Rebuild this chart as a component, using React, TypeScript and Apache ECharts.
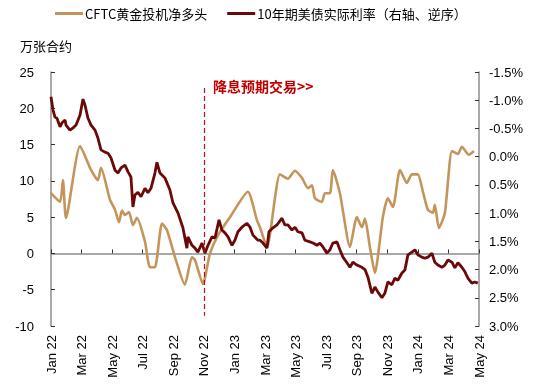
import React, { useEffect, useRef } from "react";
import * as echarts from "echarts";

// x positions are months elapsed since 1 Jan 2022
const xTickLabels = [
  "Jan 22", "Mar 22", "May 22", "Jul 22", "Sep 22", "Nov 22", "Jan 23", "Mar 23",
  "May 23", "Jul 23", "Sep 23", "Nov 23", "Jan 24", "Mar 24", "May 24",
];

const goldMonths = [
  0, 0.59, 0.78, 0.98, 1.9, 2.62, 3.07, 3.27, 3.86, 4.19, 4.45, 4.64, 4.84, 5.1, 5.36, 5.62,
  6.15, 6.47, 6.8, 7.26, 7.59, 8.11, 8.76, 9.22, 9.42, 9.94, 10.4, 10.92, 11.71, 12.88, 13.47,
  13.67, 14.13, 14.98, 15.5, 15.96, 16.42, 16.81, 17.07, 17.27, 17.72, 17.92, 18.25, 18.44,
  18.9, 19.56, 20.01, 20.34, 20.54, 20.86, 21.19, 21.71, 22.04, 22.37, 22.83, 23.28, 23.61,
  24.0, 24.33, 24.66, 24.98, 25.11, 25.38, 25.77, 26.23, 26.62, 26.88, 27.34, 27.67,
];
const goldValues = [
  8.3, 7.1, 10.1, 4.9, 14.8, 11.5, 10.1, 11.8, 7.4, 6.0, 4.3, 5.9, 5.3, 5.7, 3.9, 4.9,
  1.6, -1.9, -1.9, 4.1, 3.2, -0.5, -4.3, -0.5, -0.9, -4.2, 0, 2.5, 5.0, 8.5, 4.6,
  3.6, 0.9, 10.9, 10.3, 11.4, 10.4, 9.0, 9.4, 7.6, 7.1, 8.3, 8.3, 11.5,
  8.3, 0.9, 5.0, 3.6, 4.8, 0.9, -2.7, 5.0, 7.6, 6.4, 11.5, 9.7, 10.9,
  10.9, 8.5, 6.0, 5.6, 6.7, 3.5, 5.6, 14.1, 13.7, 14.7, 13.6, 14.1,
];

const rateMonths = [
  0, 0.13, 0.26, 0.39, 0.59, 0.72, 0.92, 0.98, 1.24, 1.44, 1.64, 1.9, 2.09, 2.22, 2.42, 2.62,
  2.88, 3.07, 3.27, 3.53, 3.73, 3.92, 4.19, 4.38, 4.58, 4.84, 5.04, 5.23, 5.36, 5.49, 5.69,
  5.89, 6.15, 6.34, 6.54, 6.8, 6.93, 7.13, 7.46, 7.78, 7.98, 8.31, 8.63, 8.89, 8.96, 9.22,
  9.42, 9.61, 9.88, 10.07, 10.27, 10.53, 10.73, 10.99, 11.18, 11.38, 11.58, 11.84, 12.03,
  12.23, 12.49, 12.82, 13.02, 13.21, 13.54, 13.67, 13.87, 14.13, 14.26, 14.52, 14.78, 15.11,
  15.3, 15.5, 15.76, 15.96, 16.15, 16.42, 16.61, 16.94, 17.14, 17.4, 17.59, 17.79, 18.05,
  18.25, 18.44, 18.71, 18.9, 19.1, 19.36, 19.56, 19.75, 20.01, 20.34, 20.54, 20.73, 20.99,
  21.19, 21.39, 21.65, 21.84, 22.04, 22.3, 22.5, 22.69, 22.96, 23.15, 23.35, 23.61, 23.81,
  24.0, 24.26, 24.46, 24.66, 24.92, 25.11, 25.31, 25.57, 25.77, 25.97, 26.23, 26.42, 26.62,
  26.88, 27.08, 27.27, 27.53, 27.73, 27.92,
];
const rateValues = [
  -1.06, -0.83, -0.7, -0.68, -0.53, -0.6, -0.65, -0.56, -0.47, -0.51, -0.56, -0.74, -1.02, -0.92, -0.68, -0.56,
  -0.47, -0.33, -0.12, -0.08, -0.06, 0.02, 0.24, 0.29, 0.2, 0.15, 0.27, 0.36, 0.89, 0.68, 0.63,
  0.71, 0.56, 0.64, 0.56, 0.29, 0.1, 0.29, 0.38, 0.59, 0.82, 1.0, 1.26, 1.62, 1.42, 1.57,
  1.62, 1.69, 1.53, 1.71, 1.57, 1.42, 1.44, 1.12, 1.3, 1.35, 1.42, 1.57, 1.48,
  1.33, 1.25, 1.18, 1.25, 1.39, 1.48, 1.48, 1.53, 1.62, 1.33, 1.26, 1.21, 1.09,
  1.21, 1.21, 1.3, 1.25, 1.33, 1.35, 1.48, 1.51, 1.53, 1.57, 1.53, 1.6, 1.71,
  1.65, 1.53, 1.51, 1.65, 1.78, 1.88, 1.96, 1.87, 1.92, 1.96, 2.0, 2.13, 2.42,
  2.31, 2.4, 2.5, 2.42, 2.22, 2.27, 2.15, 2.19, 2.06, 2.01, 1.74, 1.69, 1.65,
  1.74, 1.78, 1.8, 1.78, 1.71, 1.87, 1.92, 1.96, 1.92, 1.83, 1.87, 1.97, 1.88,
  1.96, 2.04, 2.15, 2.24, 2.22, 2.24,
];

const seriesNames = ["CFTC黄金投机净多头", "10年期美债实际利率（右轴、逆序）"];
const leftAxisName = "万张合约";
const annotationText = "降息预期交易>>";
const cutMonth = 10; // Nov 22
const cutLineRange = [22.8, -8.6];

const GOLD = "#C4955B";
const MAROON = "#6B0808";
const AXIS = "#8C8C8C";
const FONT = "Liberation Sans, Arial, 'Noto Sans CJK SC', sans-serif";
const CJK = "'Noto Sans CJK SC', 'Liberation Sans', sans-serif";

export default function App() {
  const ref = useRef<HTMLDivElement>(null);
  useEffect(() => {
    if (!ref.current) return;
    const chart = echarts.init(ref.current, undefined, { renderer: "svg" });
    const goldData = goldMonths.map((m, i) => [m, goldValues[i]]);
    const rateData = rateMonths.map((m, i) => [m, rateValues[i]]);
    const xMax = (xTickLabels.length - 1) * 2;
    chart.setOption({
      animation: false,
      legend: {
        left: 55,
        top: 7,
        padding: 0,
        icon: "rect",
        itemWidth: 28,
        itemHeight: 3,
        itemGap: 20,
        textStyle: { fontSize: 13, color: "#000", fontFamily: CJK, padding: [0, 0, 0, -3] },
        data: seriesNames,
      },
      grid: { left: 51, right: 59, top: 72, bottom: 62 },
      xAxis: [
        {
          type: "value",
          min: 0,
          max: xMax,
          interval: 2,
          position: "bottom",
          axisLine: { show: false, onZero: false },
          axisTick: { show: false },
          splitLine: { show: false },
          axisLabel: {
            rotate: 90,
            margin: 9,
            fontSize: 13,
            color: "#000",
            fontFamily: FONT,
            formatter: (v: number) => xTickLabels[Math.round(v / 2)] ?? "",
          },
        },
        {
          type: "value",
          min: 0,
          max: xMax,
          interval: 2,
          position: "bottom",
          axisLine: { show: true, onZero: true, onZeroAxisIndex: 0, lineStyle: { color: AXIS, width: 1.5 } },
          axisTick: { show: true, inside: true, length: 4, lineStyle: { color: "#333", width: 1 } },
          axisLabel: { show: false },
          splitLine: { show: false },
        },
      ],
      yAxis: [
        {
          type: "value",
          min: -10,
          max: 25,
          interval: 5,
          position: "left",
          axisLine: { show: true, onZero: false, lineStyle: { color: AXIS, width: 1.5 } },
          axisTick: { show: true, inside: true, length: 4, lineStyle: { color: "#333" } },
          splitLine: { show: false },
          axisLabel: { margin: 17, fontSize: 13, color: "#000", fontFamily: FONT },
        },
        {
          type: "value",
          min: -1.5,
          max: 3.0,
          interval: 0.5,
          inverse: true,
          position: "right",
          axisLine: { show: true, onZero: false, lineStyle: { color: AXIS, width: 1.5 } },
          axisTick: { show: true, inside: true, length: 4, lineStyle: { color: "#333" } },
          splitLine: { show: false },
          axisLabel: {
            margin: 10,
            fontSize: 13,
            color: "#000",
            fontFamily: FONT,
            formatter: (v: number) => `${v.toFixed(1)}%`,
          },
        },
      ],
      graphic: [
        {
          type: "text",
          left: 20,
          top: 39,
          style: { text: leftAxisName, fontSize: 13, fill: "#000", fontFamily: CJK },
        },
        {
          type: "text",
          left: 213,
          top: 79,
          style: { text: annotationText, fontSize: 14, fontWeight: "bold", fill: "#C00000", fontFamily: CJK },
        },
      ],
      series: [
        {
          name: seriesNames[0],
          type: "line",
          xAxisIndex: 0,
          yAxisIndex: 0,
          data: goldData,
          showSymbol: false,
          smooth: 0.2,
          lineStyle: { color: GOLD, width: 2.6 },
          itemStyle: { color: GOLD },
          markLine: {
            silent: true,
            symbol: ["none", "none"],
            label: { show: false },
            lineStyle: { color: "#B01020", type: [5, 3], width: 1.2 },
            data: [[{ coord: [cutMonth, cutLineRange[0]] }, { coord: [cutMonth, cutLineRange[1]] }]],
          },
        },
        {
          name: seriesNames[1],
          type: "line",
          xAxisIndex: 0,
          yAxisIndex: 1,
          data: rateData,
          showSymbol: false,
          lineStyle: { color: MAROON, width: 2.8 },
          itemStyle: { color: MAROON },
        },
      ],
    });
    return () => chart.dispose();
  }, []);
  return <div ref={ref} style={{ position: "fixed", left: 0, top: 0, width: 538, height: 388 }} />;
}
